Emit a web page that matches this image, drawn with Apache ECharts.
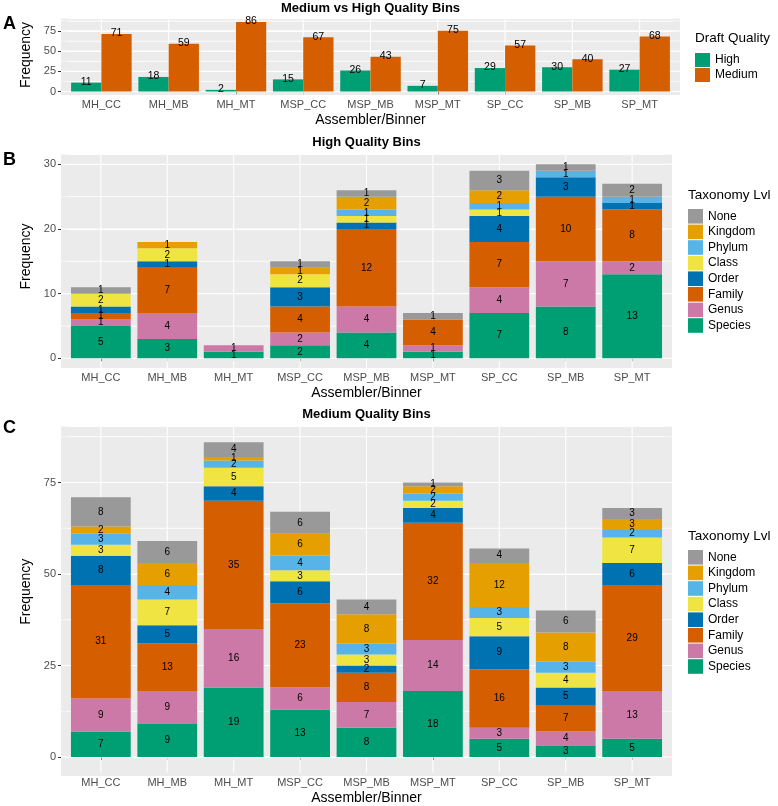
<!DOCTYPE html>
<html>
<head>
<meta charset="utf-8">
<script src="https://cdn.jsdelivr.net/npm/echarts@6/dist/echarts.min.js"></script>
<style>
html, body { margin: 0; padding: 0; background: #fff; }
#main { width: 778px; height: 806px; }
</style>
</head>
<body>
<div id="main"></div>
<script>
// categories
var binners = ["MH_CC", "MH_MB", "MH_MT", "MSP_CC", "MSP_MB", "MSP_MT", "SP_CC", "SP_MB", "SP_MT"];

// panel A
var highBins = [11, 18, 2, 15, 26, 7, 29, 30, 27];
var mediumBins = [71, 59, 86, 67, 43, 75, 57, 40, 68];

// taxonomy levels, bottom of the stack first
var taxLevels = ["Species", "Genus", "Family", "Order", "Class", "Phylum", "Kingdom", "None"];
var taxColors = ["#009E73", "#CC79A7", "#D55E00", "#0072B2", "#F0E442", "#56B4E9", "#E69F00", "#999999"];

// panel B - high quality bins
var highSpecies = [5, 3, 1, 2, 4, 1, 7, 8, 13];
var highGenus   = [1, 4, 1, 2, 4, 1, 4, 7, 2];
var highFamily  = [1, 7, 0, 4, 12, 4, 7, 10, 8];
var highOrder   = [1, 1, 0, 3, 1, 0, 4, 3, 1];
var highClass   = [2, 2, 0, 2, 1, 0, 1, 0, 0];
var highPhylum  = [0, 0, 0, 0, 1, 0, 1, 1, 1];
var highKingdom = [0, 1, 0, 1, 2, 0, 2, 0, 0];
var highNone    = [1, 0, 0, 1, 1, 1, 3, 1, 2];

// panel C - medium quality bins
var medSpecies = [7, 9, 19, 13, 8, 18, 5, 3, 5];
var medGenus   = [9, 9, 16, 6, 7, 14, 3, 4, 13];
var medFamily  = [31, 13, 35, 23, 8, 32, 16, 7, 29];
var medOrder   = [8, 5, 4, 6, 2, 4, 9, 5, 6];
var medClass   = [3, 7, 5, 3, 3, 2, 5, 4, 7];
var medPhylum  = [3, 4, 2, 4, 3, 2, 3, 3, 2];
var medKingdom = [2, 6, 1, 6, 8, 2, 12, 8, 3];
var medNone    = [8, 6, 4, 6, 4, 1, 4, 6, 3];

// y tick labels
var ticksA = [0, 25, 50, 75];
var ticksB = [0, 10, 20, 30];
var ticksC = [0, 25, 50, 75];

var highByLevel = [highSpecies, highGenus, highFamily, highOrder, highClass, highPhylum, highKingdom, highNone];
var medByLevel = [medSpecies, medGenus, medFamily, medOrder, medClass, medPhylum, medKingdom, medNone];

var FONT = "Liberation Sans";
var PANEL_BG = "#EBEBEB";

// ggplot style: 5% expansion on y, 0.6 band on x
function expand(maxVal) {
  return { lo: -maxVal * 0.05, hi: maxVal * 1.05 };
}
var yA = expand(Math.max.apply(null, mediumBins));
var totalsB = binners.map(function (b, i) { return highByLevel.reduce(function (s, a) { return s + a[i]; }, 0); });
var totalsC = binners.map(function (b, i) { return medByLevel.reduce(function (s, a) { return s + a[i]; }, 0); });
var yB = expand(Math.max.apply(null, totalsB));
var yC = expand(Math.max.apply(null, totalsC));

// panel boxes (pixels)
var panels = [
  { x: 61, y: 18.5, w: 619, h: 76.5, zeroY: 91.5, ext: yA, ticks: ticksA },
  { x: 61, y: 154.6, w: 611, h: 213.4, zeroY: 358.3, ext: yB, ticks: ticksB },
  { x: 61, y: 426.5, w: 611, h: 349.5, zeroY: 760, ext: yC, ticks: ticksC }
];

function gridFor(p) {
  var unit = p.w / 9.2;
  return {
    left: p.x + unit * 0.1,
    width: unit * 9,
    top: p.y,
    height: p.zeroY - p.y,
    containLabel: false
  };
}

function xAxisFor(idx, p) {
  return {
    type: "category",
    gridIndex: idx,
    data: binners,
    offset: p.y + p.h - p.zeroY,
    axisLine: { show: false },
    axisTick: { show: true, alignWithLabel: true, length: 3, lineStyle: { color: "#333" } },
    axisLabel: { color: "#4D4D4D", fontSize: 11, fontFamily: FONT, margin: 4, interval: 0 },
    splitLine: { show: false },
    name: "Assembler/Binner",
    nameLocation: "middle",
    nameGap: 18,
    nameTextStyle: { color: "#000", fontSize: 14, fontFamily: FONT }
  };
}

function yMajor(idx, p) {
  return {
    type: "value",
    gridIndex: idx,
    min: 0,
    max: p.ext.hi,
    interval: p.ticks[1] - p.ticks[0],
    offset: gridFor(p).left - p.x,
    axisLine: { show: false },
    axisTick: { show: true, length: 3, lineStyle: { color: "#333" } },
    axisLabel: { color: "#4D4D4D", fontSize: 11, fontFamily: FONT, margin: 5, showMaxLabel: false },
    splitLine: { show: true, lineStyle: { color: "#fff", width: 1.1 } },
    name: "Frequency",
    nameLocation: "middle",
    nameGap: 18,
    nameTextStyle: { color: "#000", fontSize: 14, fontFamily: FONT }
  };
}

function yMinor(idx, p) {
  return {
    type: "value",
    gridIndex: idx,
    position: "left",
    min: 0,
    max: p.ext.hi,
    interval: (p.ticks[1] - p.ticks[0]) / 2,
    axisLine: { show: false },
    axisTick: { show: false },
    axisLabel: { show: false },
    splitLine: { show: true, lineStyle: { color: "#fff", width: 0.55 } }
  };
}

// white panel gridlines drawn behind the bars, over the whole expanded panel
function panelGrid(idx, p) {
  var step = p.ticks[1] - p.ticks[0];
  var rows = [];
  for (var v = step / 2; v < p.ext.hi; v += step) rows.push([0, v, 0.55]);
  p.ticks.forEach(function (t) { rows.push([0, t, 1.1]); });
  var n = binners.length;

  var vertical = {
    type: "custom",
    xAxisIndex: idx, yAxisIndex: idx * 2,
    z: 1, silent: true, clip: false, animation: false,
    data: binners.map(function (b, i) { return [i, 0]; }),
    renderItem: function (params, api) {
      var i = api.value(0);
      var top = api.coord([i, p.ext.hi]);
      var bot = api.coord([i, p.ext.lo]);
      return {
        type: "line",
        shape: { x1: top[0], y1: top[1], x2: bot[0], y2: bot[1] },
        style: { stroke: "#fff", lineWidth: 1.1 }
      };
    }
  };
  var horizontal = {
    type: "custom",
    xAxisIndex: idx, yAxisIndex: idx * 2,
    z: 1, silent: true, clip: false, animation: false,
    data: rows,
    renderItem: function (params, api) {
      var a = api.coord([0, api.value(1)]);
      var b = api.coord([1, api.value(1)]);
      var band = b[0] - a[0];
      var x1 = a[0] - 0.6 * band;
      var x2 = a[0] + (n - 1 + 0.6) * band;
      return {
        type: "line",
        shape: { x1: x1, y1: a[1], x2: x2, y2: a[1] },
        style: { stroke: "#fff", lineWidth: api.value(2) }
      };
    }
  };
  return [horizontal, vertical];
}

var segLabel = {
  show: true,
  position: "inside",
  color: "#000",
  fontSize: 10,
  fontFamily: FONT,
  formatter: function (q) { return q.value ? String(q.value) : ""; }
};

var topLabel = {
  show: true,
  position: "top",
  distance: -5,
  color: "#000",
  fontSize: 10.5,
  fontFamily: FONT
};

var series = [].concat(
  panelGrid(0, panels[0]), panelGrid(1, panels[1]), panelGrid(2, panels[2]),
  [{
    name: "High", type: "bar", xAxisIndex: 0, yAxisIndex: 0,
    barWidth: "45%", barGap: "0%", data: highBins,
    itemStyle: { color: "#009E73" }, label: topLabel
  },
  {
    name: "Medium", type: "bar", xAxisIndex: 0, yAxisIndex: 0,
    barWidth: "45%", barGap: "0%", data: mediumBins,
    itemStyle: { color: "#D55E00" }, label: topLabel
  }]
);

taxLevels.forEach(function (lvl, i) {
  series.push({
    name: lvl, type: "bar", stack: "high", xAxisIndex: 1, yAxisIndex: 2,
    barWidth: "90%", data: highByLevel[i],
    itemStyle: { color: taxColors[i] }, label: segLabel
  });
});
taxLevels.forEach(function (lvl, i) {
  series.push({
    name: lvl, type: "bar", stack: "medium", xAxisIndex: 2, yAxisIndex: 4,
    barWidth: "90%", data: medByLevel[i],
    itemStyle: { color: taxColors[i] }, label: segLabel
  });
});

var legendBase = {
  orient: "vertical",
  icon: "rect",
  padding: 0,
  itemWidth: 15,
  itemHeight: 14.6,
  itemGap: 1,
  selectedMode: false,
  textStyle: { color: "#000", fontSize: 12, fontFamily: FONT }
};

var reversedLevels = taxLevels.slice().reverse();

function titleAt(text, cx, top, size) {
  return {
    text: text, left: cx, top: top, textAlign: "center", padding: 0,
    textStyle: { color: "#000", fontSize: size, fontWeight: "bold", fontFamily: FONT }
  };
}
function plainTitle(text, left, top, size, weight) {
  return {
    text: text, left: left, top: top, padding: 0,
    textStyle: { color: "#000", fontSize: size, fontWeight: weight, fontFamily: FONT }
  };
}

var myChart = echarts.init(document.getElementById("main"), null, { renderer: "canvas" });

myChart.setOption({
  animation: false,
  backgroundColor: "#fff",
  title: [
    titleAt("Medium vs High Quality Bins", panels[0].x + panels[0].w / 2, 2, 13),
    titleAt("High Quality Bins", panels[1].x + panels[1].w / 2, 136, 13),
    titleAt("Medium Quality Bins", panels[2].x + panels[2].w / 2, 408, 13),
    plainTitle("A", 3, 15, 18, "bold"),
    plainTitle("B", 3, 151, 18, "bold"),
    plainTitle("C", 3, 419, 18, "bold"),
    plainTitle("Draft Quality", 695, 31, 13.5, "normal"),
    plainTitle("Taxonomy Lvl", 688, 188, 13.5, "normal"),
    plainTitle("Taxonomy Lvl", 688, 529, 13.5, "normal")
  ],
  graphic: panels.map(function (p) {
    return {
      type: "rect", z: -10, silent: true,
      shape: { x: p.x, y: p.y, width: p.w, height: p.h },
      style: { fill: PANEL_BG }
    };
  }),
  legend: [
    Object.assign({}, legendBase, { left: 695, top: 53, data: ["High", "Medium"], itemHeight: 14 }),
    Object.assign({}, legendBase, { left: 688, top: 209, data: reversedLevels }),
    Object.assign({}, legendBase, { left: 688, top: 550, data: reversedLevels })
  ],
  grid: panels.map(gridFor),
  xAxis: [xAxisFor(0, panels[0]), xAxisFor(1, panels[1]), xAxisFor(2, panels[2])],
  yAxis: [
    yMajor(0, panels[0]), yMinor(0, panels[0]),
    yMajor(1, panels[1]), yMinor(1, panels[1]),
    yMajor(2, panels[2]), yMinor(2, panels[2])
  ],
  series: series
});
</script>
</body>
</html>
